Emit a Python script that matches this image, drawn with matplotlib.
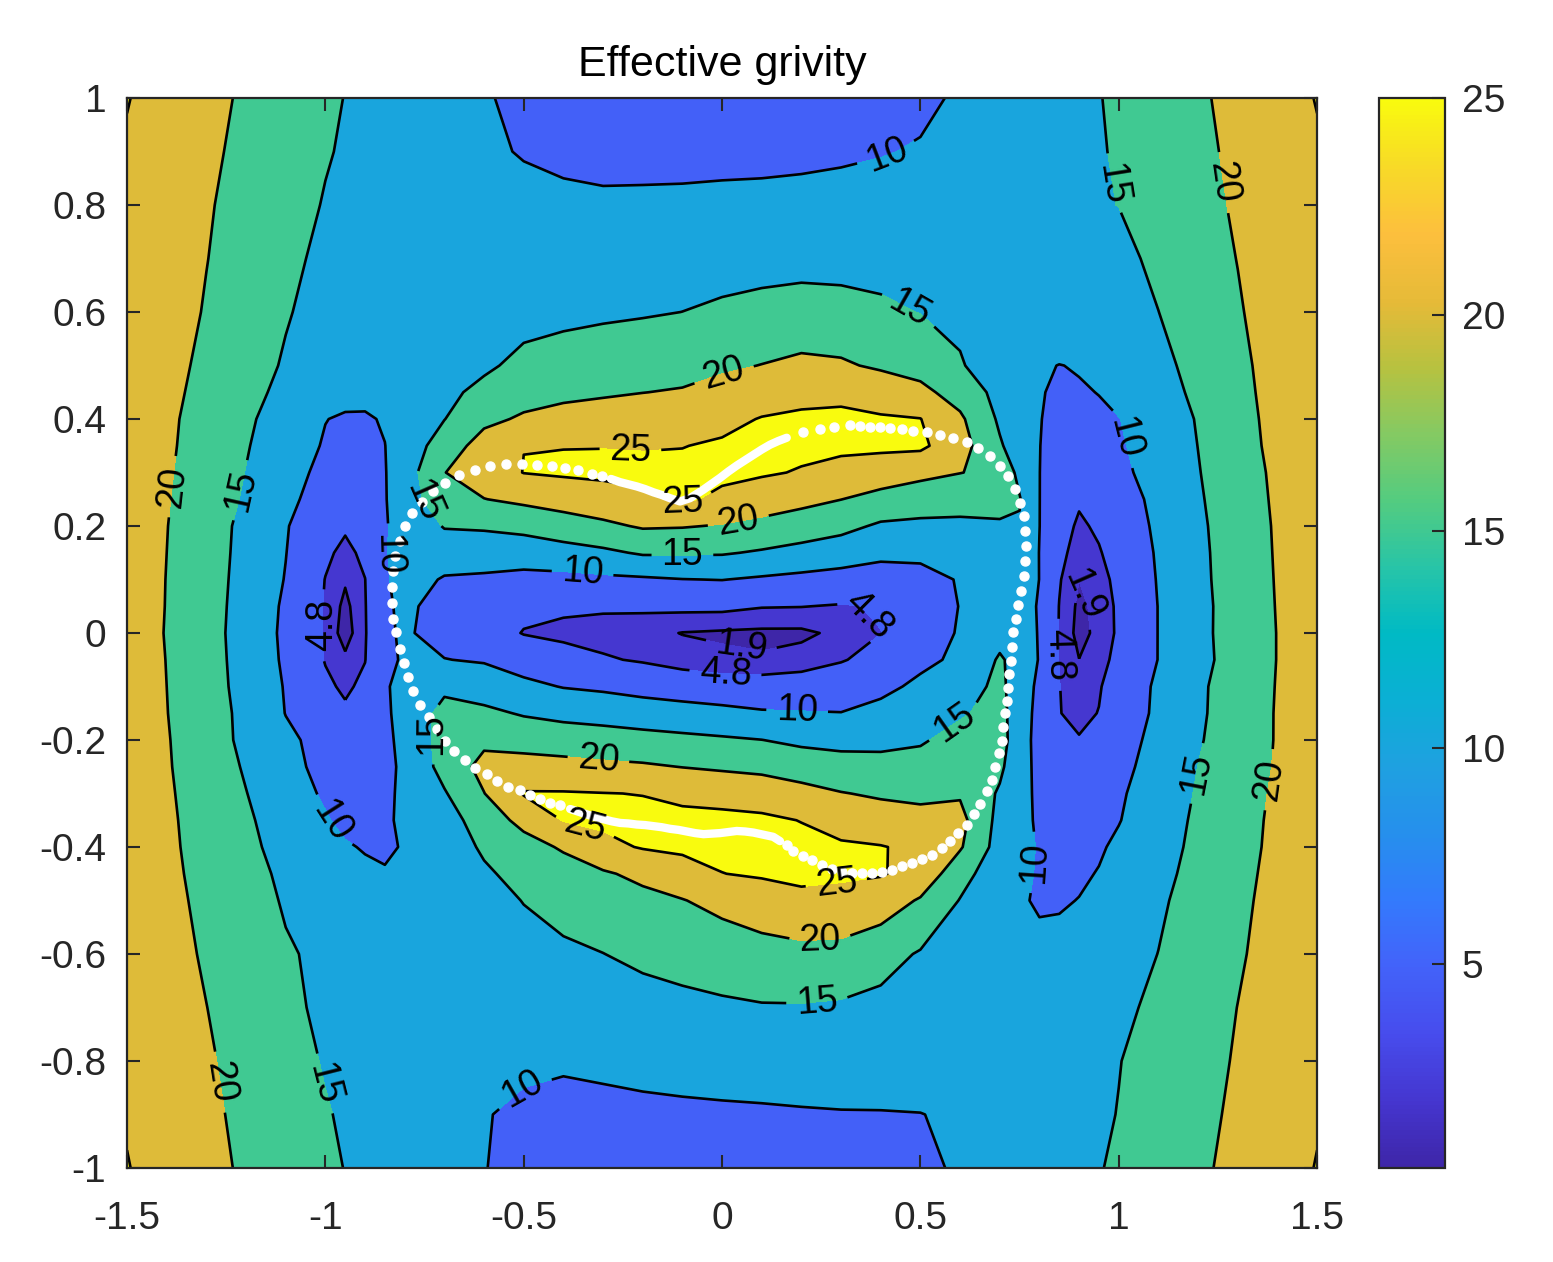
import numpy as np
import matplotlib
matplotlib.use("Agg")
import matplotlib.pyplot as plt
from matplotlib.colors import LinearSegmentedColormap, Normalize
from matplotlib.cm import ScalarMappable

plt.rcParams['font.family'] = ['Liberation Sans', 'DejaVu Sans']

xs = [-1.5, -1.4, -1.3, -1.2, -1.1, -1.0, -0.95, -0.9, -0.85, -0.8, -0.7, -0.6,
      -0.5, -0.4, -0.3, -0.2, -0.1, 0.0, 0.1, 0.2, 0.3, 0.4, 0.5, 0.6, 0.7, 0.75,
      0.8, 0.85, 0.9, 0.95, 1.0, 1.1, 1.2, 1.3, 1.4, 1.5]
ys = [1.0, 0.9, 0.8, 0.7, 0.6, 0.5, 0.45, 0.4, 0.35, 0.3, 0.25, 0.2, 0.15, 0.1,
      0.05, 0.0, -0.05, -0.1, -0.15, -0.2, -0.25, -0.3, -0.35, -0.4, -0.45, -0.5,
      -0.6, -0.7, -0.8, -0.9, -1.0]

# effective gravity, one row per y (top to bottom)
geff = [
    [25.2,23.0,21.2,19.4,17.6,15.8,14.9,14.3,13.6,13.0,11.6,10.3,9.2,8.6,8.2,8.0,7.9,7.9,7.9,8.0,8.2,8.6,9.2,10.5,11.7,12.4,13.0,13.6,14.2,14.85,15.7,17.5,19.4,21.2,23.0,25.2],
    [24.5,22.7,20.8,19.0,17.1,15.3,14.6,14.0,13.5,12.9,11.7,10.5,9.8,9.4,9.1,9.0,8.95,8.95,9.0,9.2,9.45,9.8,10.3,11.1,12.0,12.55,13.1,13.6,14.15,14.7,15.4,17.2,19.0,20.9,22.7,24.5],
    [24.2,22.3,20.4,18.5,16.6,14.75,14.5,14.1,13.75,13.4,12.4,11.6,10.9,10.6,10.5,10.6,10.7,10.9,11.0,11.1,11.3,11.6,12.1,12.6,13.2,13.5,13.8,14.1,14.4,14.7,15.05,16.9,18.7,20.5,22.3,24.2],
    [24.2,22.1,20.1,18.1,16.0,14.05,13.95,13.85,13.75,13.6,13.3,12.8,12.4,12.2,12.3,12.6,12.9,13.2,13.4,13.6,13.5,13.4,13.2,13.1,13.3,13.4,13.5,13.6,13.7,13.8,13.9,15.9,18.0,20.1,22.2,24.3],
    [24.1,21.9,19.7,17.5,15.3,13.6,13.55,13.5,13.5,13.45,13.4,13.3,13.5,13.9,14.3,14.6,15.02,15.7,16.3,16.7,16.5,15.8,14.9,14.2,14.0,14.05,14.1,14.3,14.45,14.6,14.7,14.97,17.2,19.6,22.1,24.5],
    [23.8,21.4,19.05,16.7,14.6,13.3,12.6,12.1,12.1,12.3,13.1,14.3,16.1,16.95,17.5,18.1,18.6,19.3,20.1,21.0,20.6,19.3,18.2,15.3,13.0,11.8,10.6,9.9,10.3,11.0,12.0,13.9,16.3,19.0,21.7,24.4],
    [23.6,21.1,18.7,16.2,14.0,12.3,11.4,11.0,11.2,12.0,14.0,16.1,18.2,19.0,19.5,19.95,20.3,21.6,22.9,24.1,24.3,23.1,21.25,18.0,13.5,12.0,10.3,9.3,9.6,10.1,11.2,13.4,15.8,18.7,21.6,24.4],
    [23.4,20.8,18.3,15.7,13.0,10.1,9.5,9.6,10.3,11.9,14.9,18.9,20.6,21.5,21.9,22.2,22.6,23.9,25.2,25.5,25.6,25.4,25.1,20.8,14.3,12.1,10.2,8.6,8.5,9.3,9.9,12.4,15.3,18.4,21.4,24.4],
    [23.3,20.7,18.0,15.3,12.4,9.6,8.6,9.0,9.95,12.0,17.4,22.0,24.95,24.9,24.9,24.8,24.9,25.5,25.9,26.0,26.0,26.0,25.9,22.0,15.5,12.7,10.1,8.0,7.4,8.5,9.5,12.1,15.05,18.2,21.2,24.3],
    [23.3,20.5,17.7,14.9,11.9,8.7,7.6,8.1,9.8,12.6,19.9,22.6,25.1,25.6,25.8,25.8,25.9,25.8,25.5,24.7,23.4,22.3,21.2,20.1,19.0,13.6,10.05,7.8,6.5,7.5,9.0,11.7,14.8,17.8,20.9,24.0],
    [23.2,20.3,17.4,14.5,11.1,8.0,6.4,7.4,9.8,12.0,18.8,19.9,21.0,22.0,23.2,24.4,25.6,24.2,22.5,21.25,20.05,18.6,17.4,16.7,16.7,15.3,10.05,7.4,5.3,5.9,7.7,11.3,14.5,17.6,20.7,23.8],
    [23.1,20.1,17.1,13.85,10.25,7.3,5.3,6.5,9.7,11.5,15.3,15.6,16.4,17.8,19.0,20.5,20.3,19.7,18.75,17.7,16.4,14.3,14.0,14.1,14.4,14.6,10.05,6.5,4.2,5.4,7.3,10.8,14.2,17.4,20.5,23.6],
    [23.05,20.0,17.0,13.7,10.1,5.5,3.9,5.6,9.5,13.0,12.35,12.2,12.2,13.1,14.1,15.5,15.5,15.4,14.5,13.4,12.3,11.0,11.0,12.0,13.5,14.0,9.9,5.9,3.2,4.5,6.5,10.5,14.0,17.3,20.4,23.5],
    [23.0,19.9,16.9,13.5,9.8,4.7,2.3,4.75,9.4,12.0,9.6,9.3,8.7,8.7,9.1,9.4,9.9,10.1,9.4,8.8,8.3,8.0,8.5,10.3,12.0,12.5,9.95,5.1,1.95,3.6,5.8,10.3,13.9,17.2,20.3,23.4],
    [22.95,19.85,16.8,13.3,9.3,4.5,1.0,4.6,9.4,10.8,8.5,7.0,5.9,5.4,5.3,5.5,5.7,5.7,5.0,4.9,4.5,5.1,8.0,10.1,12.0,11.0,9.8,4.7,1.2,2.8,5.5,10.1,13.7,17.1,20.2,23.3],
    [22.85,19.75,16.7,13.15,9.1,4.4,0.35,4.5,9.4,10.5,8.5,7.0,4.6,4.0,3.5,2.8,1.8,1.5,1.3,1.3,2.6,4.75,8.2,10.3,13.5,11.5,9.8,4.6,0.8,2.8,5.4,10.1,13.8,17.0,20.1,23.2],
    [22.95,19.9,16.8,13.3,9.3,4.6,2.6,4.7,9.4,10.3,10.1,9.6,7.9,6.3,5.2,4.4,3.2,2.5,2.2,3.0,4.5,6.3,9.0,10.8,15.5,13.5,9.7,4.7,1.95,3.8,5.7,10.1,13.6,17.0,20.1,23.2],
    [23.1,20.0,16.9,13.5,9.7,5.5,4.2,5.6,9.5,11.5,14.05,12.7,11.1,9.8,9.2,8.3,7.6,7.0,6.8,7.0,7.6,8.9,10.9,13.0,16.0,12.8,8.9,4.9,2.9,4.5,6.7,10.8,14.2,17.3,20.2,23.1],
    [23.2,20.1,17.0,13.9,9.9,7.3,5.4,6.3,9.3,11.5,16.5,16.0,14.6,13.7,13.2,12.5,11.9,11.3,10.5,10.3,10.1,11.3,12.7,14.5,16.5,12.5,8.5,4.9,4.0,4.9,6.8,11.0,14.3,17.3,20.3,23.2],
    [23.4,20.3,17.1,14.0,10.9,8.5,7.6,7.8,9.2,11.0,17.0,19.0,18.1,17.6,17.1,16.6,16.1,15.6,15.05,14.0,13.6,13.8,14.5,16.6,17.0,12.0,8.5,6.5,5.0,6.0,8.0,11.4,14.6,17.4,20.3,23.0],
    [23.4,20.4,17.5,14.55,11.5,8.6,7.3,7.5,9.2,10.6,16.7,21.5,21.9,21.5,21.0,20.6,19.9,19.3,18.7,17.8,16.9,16.5,16.7,17.8,16.0,11.5,9.0,7.3,6.0,7.0,8.6,12.0,15.05,17.7,20.4,23.1],
    [23.4,20.6,17.8,15.1,12.2,9.4,8.1,8.3,9.3,10.7,14.6,19.9,25.3,25.3,25.1,24.9,24.1,23.7,23.1,21.5,20.2,19.4,18.9,19.5,14.4,11.0,9.4,8.2,6.9,7.8,9.4,12.4,15.4,18.0,20.7,23.3],
    [23.35,20.75,18.15,15.6,13.0,10.4,9.0,9.0,9.6,10.5,13.0,17.2,21.5,25.2,25.8,26.0,26.0,25.9,25.7,24.9,23.2,22.2,21.6,21.5,13.5,10.8,9.6,9.0,7.9,8.6,9.8,13.0,15.7,18.3,20.9,23.5],
    [23.3,20.85,18.4,16.0,13.5,11.5,10.4,9.7,9.4,10.3,13.0,15.5,18.0,20.6,23.9,25.3,25.8,25.8,25.9,26.0,25.6,25.2,24.1,20.5,13.0,10.8,9.8,9.3,8.9,9.5,10.8,13.3,16.0,18.5,21.0,23.5],
    [23.4,21.0,18.7,16.4,14.2,12.5,11.6,10.8,10.3,10.7,12.3,14.5,16.1,17.7,19.4,21.2,23.1,24.95,25.4,25.7,25.6,25.3,23.5,16.8,12.0,10.5,9.8,9.5,9.4,10.2,11.6,13.85,16.3,18.8,21.2,23.7],
    [23.5,21.2,19.0,16.8,14.6,13.0,12.3,11.7,11.4,11.6,12.5,13.8,15.1,16.2,17.4,18.6,19.8,21.5,23.1,24.25,23.8,22.7,19.5,14.8,12.0,10.5,9.5,9.6,10.1,11.0,12.1,14.4,16.6,19.0,21.5,23.9],
    [23.7,21.6,19.5,17.5,15.4,14.2,13.8,13.4,13.1,12.9,12.9,13.3,13.8,14.4,14.95,15.9,16.45,17.1,18.0,18.6,18.5,16.7,14.6,13.3,12.3,11.7,11.1,11.2,11.8,12.5,13.3,15.05,17.2,19.5,21.7,24.0],
    [24.0,22.0,20.05,18.0,16.0,14.1,13.95,13.8,13.6,13.4,12.9,12.5,12.3,12.4,12.8,13.4,14.0,14.4,14.7,14.7,14.4,13.8,13.0,12.6,12.6,12.7,12.9,13.1,13.4,13.8,14.2,15.8,17.9,20.05,22.0,24.1],
    [24.4,22.4,20.5,18.6,16.6,14.7,14.3,14.0,13.6,13.2,12.3,11.5,10.7,10.4,10.6,10.8,11.0,11.4,11.5,11.8,12.0,12.3,12.8,13.1,13.4,13.6,13.8,14.0,14.3,14.6,14.9,16.3,18.4,20.4,22.3,24.3],
    [24.6,22.7,20.9,19.0,17.1,15.3,14.5,13.9,13.3,12.7,11.4,10.2,9.3,9.0,9.2,9.4,9.5,9.5,9.6,9.7,9.8,9.8,9.9,10.75,11.8,12.35,12.9,13.4,14.0,14.5,15.1,16.9,18.8,20.8,22.7,24.6],
    [25.2,23.0,21.2,19.4,17.6,15.8,14.9,14.2,13.5,12.85,11.5,10.1,9.0,8.5,8.3,8.2,8.2,8.3,8.4,8.6,8.8,9.1,9.5,10.3,11.6,12.25,12.9,13.5,14.2,14.8,15.6,17.5,19.3,21.1,23.0,25.2],
]

line_levels = [1.9, 4.8, 10, 15, 20, 25]

# outline of the body (white dots)
left_top_x = [-0.812, -0.822, -0.829, -0.833, -0.833, -0.830, -0.824, -0.813, -0.799, -0.782, -0.757,
              -0.728, -0.698, -0.662, -0.624, -0.585, -0.545, -0.505, -0.467, -0.429, -0.396,
              -0.362, -0.329, -0.303]
left_top_y = [-0.030, 0.002, 0.027, 0.057, 0.086, 0.115, 0.144, 0.172, 0.200, 0.224, 0.245,
              0.265, 0.281, 0.295, 0.305, 0.312, 0.316, 0.316, 0.315, 0.312, 0.308,
              0.304, 0.297, 0.293]
top_dense_x = [-0.280, -0.257, -0.236, -0.215, -0.194, -0.173, -0.152, -0.131, -0.106, -0.081,
               -0.064, -0.047, -0.026, -0.005, 0.016, 0.037, 0.058, 0.079, 0.100, 0.121, 0.142, 0.163]
top_dense_y = [0.288, 0.282, 0.278, 0.274, 0.269, 0.263, 0.258, 0.252, 0.246, 0.252,
               0.260, 0.268, 0.279, 0.290, 0.302, 0.313, 0.323, 0.333, 0.343, 0.352, 0.359, 0.365]
right_x = [0.205, 0.247, 0.281, 0.323, 0.348, 0.373, 0.398, 0.424, 0.453, 0.482, 0.516, 0.550,
           0.583, 0.617, 0.646, 0.676, 0.701, 0.722, 0.739, 0.751, 0.760, 0.764, 0.766, 0.764,
           0.760, 0.754, 0.747, 0.740, 0.734, 0.730, 0.728, 0.723, 0.720, 0.718, 0.713, 0.709,
           0.705, 0.698, 0.688, 0.680, 0.667, 0.650, 0.634, 0.617, 0.596, 0.575, 0.554, 0.529,
           0.503, 0.478, 0.453, 0.428, 0.403, 0.377, 0.352, 0.327, 0.302, 0.277, 0.251, 0.226,
           0.205, 0.180, 0.163]
right_y = [0.375, 0.382, 0.386, 0.388, 0.387, 0.386, 0.385, 0.383, 0.382, 0.378, 0.375, 0.370,
           0.365, 0.357, 0.346, 0.330, 0.312, 0.293, 0.269, 0.243, 0.219, 0.191, 0.163, 0.135,
           0.107, 0.079, 0.052, 0.026, 0.002, -0.026, -0.052, -0.076, -0.102, -0.128, -0.150, -0.176,
           -0.202, -0.225, -0.251, -0.274, -0.296, -0.319, -0.339, -0.358, -0.374, -0.389, -0.402, -0.415,
           -0.423, -0.430, -0.436, -0.443, -0.447, -0.449, -0.449, -0.449, -0.446, -0.441, -0.433, -0.424,
           -0.417, -0.407, -0.397]
bot_dense_x = [0.146, 0.129, 0.104, 0.079, 0.058, 0.037, 0.016, -0.005, -0.026, -0.047, -0.068,
               -0.089, -0.110, -0.131, -0.152, -0.173, -0.194, -0.215, -0.236, -0.257, -0.278,
               -0.299, -0.320, -0.341, -0.362, -0.383]
bot_dense_y = [-0.389, -0.381, -0.377, -0.373, -0.371, -0.370, -0.372, -0.374, -0.375, -0.376, -0.374,
               -0.371, -0.368, -0.366, -0.363, -0.361, -0.359, -0.358, -0.356, -0.355, -0.352,
               -0.348, -0.344, -0.339, -0.334, -0.329]
left_bot_x = [-0.408, -0.434, -0.459, -0.484, -0.509, -0.539, -0.568, -0.593, -0.623, -0.648,
              -0.677, -0.698, -0.719, -0.740, -0.761, -0.778, -0.791, -0.803]
left_bot_y = [-0.322, -0.318, -0.311, -0.303, -0.293, -0.288, -0.277, -0.264, -0.253, -0.238,
              -0.220, -0.201, -0.180, -0.157, -0.134, -0.108, -0.082, -0.056]

# where the inline labels sit
label_pos = [(0.423, 0.878), (0.461, 0.589), (0.008, 0.473), (-0.232, 0.329), (-0.10, 0.24),
             (0.045, 0.193), (-0.10, 0.136), (-0.353, 0.099), (0.343, 0.015), (0.045, -0.041),
             (0.008, -0.084), (0.189, -0.153), (-0.313, -0.247), (-0.353, -0.383), (0.292, -0.495),
             (0.247, -0.574), (0.239, -0.686), (0.595, -0.178), (0.769, -0.428), (1.218, -0.265),
             (1.386, -0.275), (-0.522, -0.836), (-1.018, -0.845), (-1.278, -0.841), (-0.988, -0.355),
             (-0.766, -0.187), (-1.379, 0.273), (-1.215, 0.267), (-0.792, 0.226), (-0.867, 0.146),
             (-1.034, 0.015), (0.996, 0.841), (1.255, 0.841), (0.996, 0.361), (0.908, 0.071),
             (0.827, -0.041)]

# parula-like colour map
parula_pts = [(0.00, (0.2422, 0.1504, 0.6603)), (0.06, (0.270, 0.210, 0.810)),
              (0.125, (0.278, 0.300, 0.930)), (0.19, (0.260, 0.390, 0.980)),
              (0.25, (0.200, 0.480, 0.990)), (0.31, (0.150, 0.560, 0.930)),
              (0.375, (0.120, 0.630, 0.880)), (0.44, (0.040, 0.690, 0.830)),
              (0.50, (0.000, 0.730, 0.770)), (0.56, (0.150, 0.770, 0.660)),
              (0.625, (0.330, 0.800, 0.500)), (0.69, (0.530, 0.790, 0.380)),
              (0.75, (0.720, 0.760, 0.250)), (0.81, (0.900, 0.730, 0.220)),
              (0.875, (0.990, 0.750, 0.240)), (0.94, (0.970, 0.860, 0.150)),
              (1.00, (0.9763, 0.9831, 0.0538))]
parula = LinearSegmentedColormap.from_list('parula', parula_pts)
norm = Normalize(vmin=0.3, vmax=25)

X = np.array(xs)
Y = np.array(ys)[::-1]
Z = np.array(geff)[::-1]

fig = plt.figure(figsize=(15.53, 12.62), dpi=100)
ax = fig.add_axes([0.0818, 0.0745, 0.7663, 0.8478])

fill_levels = [0] + line_levels + [30]
fill_cols = [parula(norm(v)) for v in [0.3] + line_levels]
ax.contourf(X, Y, Z, levels=fill_levels, colors=fill_cols)
cs = ax.contour(X, Y, Z, levels=line_levels, colors='k', linewidths=1.9)

# body outline
for px, py in [(top_dense_x, top_dense_y), (bot_dense_x, bot_dense_y)]:
    ax.plot(px, py, '-', color='white', lw=6.0, solid_capstyle='round', zorder=4)
for px, py in [(left_top_x, left_top_y), (right_x, right_y), (left_bot_x, left_bot_y)]:
    ax.plot(px, py, 'o', color='white', ms=6.5, mec='white', zorder=4)

ax.clabel(cs, manual=label_pos, inline=True, inline_spacing=10, fontsize=27, fmt='%g')

ax.set_xlim(-1.5, 1.5)
ax.set_ylim(-1, 1)
ax.set_xticks([-1.5, -1, -0.5, 0, 0.5, 1, 1.5])
ax.set_xticklabels(['-1.5', '-1', '-0.5', '0', '0.5', '1', '1.5'])
ax.set_yticks([-1, -0.8, -0.6, -0.4, -0.2, 0, 0.2, 0.4, 0.6, 0.8, 1])
ax.set_yticklabels(['-1', '-0.8', '-0.6', '-0.4', '-0.2', '0', '0.2', '0.4', '0.6', '0.8', '1'])
ax.tick_params(direction='in', length=9.5, width=1.5, top=True, right=True,
               labelsize=28, color='#262626', labelcolor='#262626')
ax.tick_params(axis='x', pad=24)
ax.tick_params(axis='y', pad=15)
for sp in ax.spines.values():
    sp.set_linewidth(1.6)
    sp.set_color('#262626')
ax.set_title('Effective grivity', fontsize=31, pad=16)

cax = fig.add_axes([0.888, 0.0745, 0.0425, 0.8478])
sm = ScalarMappable(norm=norm, cmap=parula)
cb = fig.colorbar(sm, cax=cax, ticks=[5, 10, 15, 20, 25])
cb.ax.tick_params(direction='in', length=9.5, width=1.5, labelsize=28,
                  color='#262626', labelcolor='#262626', pad=12)
cb.outline.set_linewidth(1.6)
cb.outline.set_edgecolor('#262626')

fig.savefig('out.png', dpi=100)
